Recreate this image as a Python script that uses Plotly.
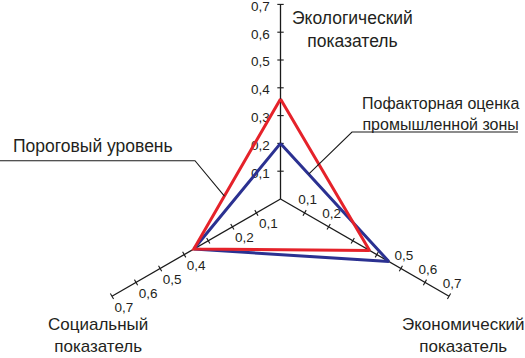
import math
import plotly.graph_objects as go

# Three indicator axes of the triangular diagram (angle in degrees, counter-clockwise from +x)
axis_names = ["Экологический показатель", "Экономический показатель", "Социальный показатель"]
axis_angles = [90, -30, 210]

# Series values on each axis (same order as axis_names)
threshold_level = [0.36, 0.37, 0.36]   # Пороговый уровень
factor_score = [0.20, 0.45, 0.36]      # Пофакторная оценка промышленной зоны

tick_values = [0.1, 0.2, 0.3, 0.4, 0.5, 0.6, 0.7]
tick_labels = ["0,1", "0,2", "0,3", "0,4", "0,5", "0,6", "0,7"]
# tick values that carry a label on each axis
labelled_ticks = [
    [0.1, 0.2, 0.3, 0.4, 0.5, 0.6, 0.7],
    [0.1, 0.2, 0.5, 0.6, 0.7],
    [0.1, 0.2, 0.4, 0.5, 0.6, 0.7],
]
axis_max = 0.7

# ---- canvas geometry ----
W, H = 525, 358
PX = 278.0            # pixels per unit of the indicator scale
OX, OY = 280.5, 199   # origin of the axes in pixels
FONT = "Liberation Sans, Arial, sans-serif"
TXT = "#231f20"
RED = "#e5222a"
BLUE = "#2b3191"


def polar(r, ang):
    a = math.radians(ang)
    return r * math.cos(a), r * math.sin(a)


def off(x, y, dx_px, dy_px):
    """shift a data point by a pixel offset (dy positive = down)"""
    return x + dx_px / PX, y - dy_px / PX


def px2data(px, py):
    return (px - OX) / PX, (OY - py) / PX


fig = go.Figure()

# axis lines and tick marks
ax_x, ax_y, tk_x, tk_y = [], [], [], []
for ang in axis_angles:
    ex, ey = polar(axis_max, ang)
    ax_x += [0, ex, None]
    ax_y += [0, ey, None]
    nx, ny = polar(3.2 / PX, ang + 90)
    for v in tick_values:
        cx, cy = polar(v, ang)
        tk_x += [cx - nx, cx + nx, None]
        tk_y += [cy - ny, cy + ny, None]
fig.add_trace(go.Scatter(x=ax_x, y=ax_y, mode="lines",
                         line=dict(color="#1a1a1a", width=1.3), hoverinfo="skip"))
fig.add_trace(go.Scatter(x=tk_x, y=tk_y, mode="lines",
                         line=dict(color="#1a1a1a", width=1.1), hoverinfo="skip"))

# tick labels (pixel offset of each label centre from its tick, per axis)
label_offsets = [(-20, 3), (3, -12), (12, 12)]
lx, ly, lt = [], [], []
for ang, shown, (dx, dy) in zip(axis_angles, labelled_ticks, label_offsets):
    for v, t in zip(tick_values, tick_labels):
        if v in shown:
            cx, cy = polar(v, ang)
            x, y = off(cx, cy, dx, dy)
            lx.append(x)
            ly.append(y)
            lt.append(t)
fig.add_trace(go.Scatter(x=lx, y=ly, text=lt, mode="text", textposition="middle center",
                         textfont=dict(family=FONT, size=13.5, color=TXT), hoverinfo="skip"))


def closed_polygon(values):
    pts = [polar(v, a) for v, a in zip(values, axis_angles)]
    pts.append(pts[0])
    return [p[0] for p in pts], [p[1] for p in pts], pts


fx, fy, fpts = closed_polygon(factor_score)
rx, ry, rpts = closed_polygon(threshold_level)
fig.add_trace(go.Scatter(x=fx, y=fy, mode="lines", name="Пофакторная оценка промышленной зоны",
                         line=dict(color=BLUE, width=3)))
fig.add_trace(go.Scatter(x=rx, y=ry, mode="lines", name="Пороговый уровень",
                         line=dict(color=RED, width=3)))


def along(p, q, t):
    return p[0] + (q[0] - p[0]) * t, p[1] + (q[1] - p[1]) * t


# leader lines from the series labels to their triangles
red_end = along(rpts[0], rpts[2], 0.647)
blue_end = along(fpts[0], fpts[1], 0.26)
a0, a1 = px2data(0, 160.7), px2data(195, 160.7)
b0, b1 = px2data(518, 132), px2data(352, 132)
fig.add_trace(go.Scatter(x=[a0[0], a1[0], red_end[0]], y=[a0[1], a1[1], red_end[1]],
                         mode="lines", line=dict(color="#1a1a1a", width=1.1), hoverinfo="skip"))
fig.add_trace(go.Scatter(x=[b0[0], b1[0], blue_end[0]], y=[b0[1], b1[1], blue_end[1]],
                         mode="lines", line=dict(color="#1a1a1a", width=1.1), hoverinfo="skip"))

# text blocks (text, pixel centre x, pixel centre y, font size)
texts = [
    ("Экологический<br>показатель", 352, 30, 17.5),
    ("Пофакторная оценка<br>промышленной зоны", 440, 114, 16),
    ("Пороговый уровень", 93, 146, 17.5),
    ("Экономический<br>показатель", 463, 335, 17),
    ("Социальный<br>показатель", 98, 335, 17),
]
for s, px, py, fs in texts:
    fig.add_annotation(x=px / W, y=1 - py / H, xref="paper", yref="paper", text=s,
                       showarrow=False, xanchor="center", yanchor="middle",
                       font=dict(family=FONT, size=fs, color=TXT), borderpad=0)

fig.update_layout(
    width=W, height=H, margin=dict(l=0, r=0, t=0, b=0),
    paper_bgcolor="white", plot_bgcolor="white", showlegend=False,
    xaxis=dict(range=[-OX / PX, (W - OX) / PX], visible=False, fixedrange=True),
    yaxis=dict(range=[-(H - OY) / PX, OY / PX], visible=False, fixedrange=True),
)
fig.write_html("out.html")
